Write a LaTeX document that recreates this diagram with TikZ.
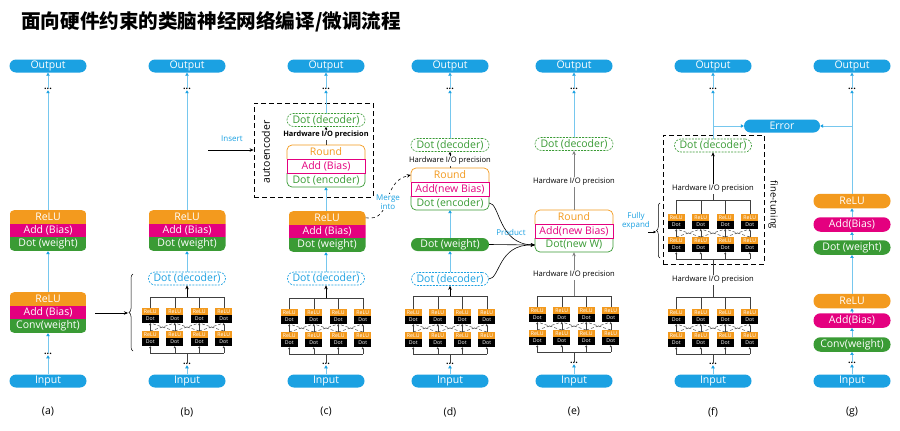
\documentclass[tikz,border=0pt]{standalone}
\usepackage{fontspec}
\setmainfont{Open Sans}
\newfontfamily\cjk{Noto Sans CJK SC}
\usetikzlibrary{arrows.meta,decorations.pathreplacing}
\definecolor{cblue}{HTML}{1BA1E2}
\definecolor{corange}{HTML}{F39A1E}
\definecolor{cmag}{HTML}{E4007F}
\definecolor{cgreen}{HTML}{3A9B35}
\tikzset{
 pill/.style={rounded corners=6.5pt, minimum width=77pt, minimum height=13pt, inner sep=0pt, font=\fontsize{10.5}{10.5}\selectfont},
 bpill/.style={pill, fill=cblue, text=white},
 gpill/.style={pill, minimum height=14.5pt, rounded corners=7pt, text=white},
 dpill/.style={pill, draw, dash pattern=on 2pt off 1.2pt, line width=0.6pt, fill=white},
 blkrow/.style={minimum width=77pt, minimum height=13.67pt, inner sep=0pt, text=white, font=\fontsize{10.5}{10.5}\selectfont},
 orow/.style={minimum width=78pt, minimum height=14pt, inner sep=0pt, font=\fontsize{10.5}{10.5}\selectfont},
 dotsn/.style={inner sep=0.3pt, font=\bfseries\fontsize{9}{5}\selectfont},
 ur/.style={fill=corange, minimum width=17pt, minimum height=7pt, inner sep=0pt, text=white, font=\fontsize{5.2}{5.2}\selectfont},
 ud/.style={fill=black, minimum width=17pt, minimum height=8pt, inner sep=0pt, text=white, font=\fontsize{5.2}{5.2}\selectfont},
 bl/.style={draw=cblue!60, line width=0.6pt, -{Triangle[length=3pt,width=3.4pt,color=cblue]}},
 blk/.style={draw=black, line width=0.6pt, -{Stealth[length=4pt,width=3.5pt]}},
 gyk/.style={draw=black!50, line width=1pt, -{Stealth[length=4pt,width=3.5pt]}},
 gl/.style={draw=black!75, line width=0.5pt},
 gtip/.style={-{Triangle[length=2pt,width=2.2pt]}},
 hwt/.style={font=\fontsize{7.6}{7.6}\selectfont, inner sep=1pt},
 note/.style={text=cblue, font=\fontsize{8}{8.5}\selectfont, align=center, inner sep=0.5pt},
 dbox/.style={draw, dash pattern=on 5pt off 3pt, line width=0.8pt},
 lab/.style={font=\fontsize{10.5}{10.5}\selectfont},
}
\newcommand\stackblk[6]{%
 \begin{scope}
 \clip[rounded corners=5pt] ({#2-38.5},#3) rectangle ({#2+38.5},{#3+41});
 \node[blkrow,fill=corange] (#1r) at (#2,{#3+6.83}) {#4};
 \node[blkrow,fill=cmag] (#1a) at (#2,{#3+20.5}) {#5};
 \node[blkrow,fill=cgreen] (#1d) at (#2,{#3+34.17}) {#6};
 \end{scope}}
\newcommand\outblk[6]{%
 \node[orow,text=corange] (#1r) at (#2,{#3+7}) {#4};
 \node[orow,text=cmag] (#1a) at (#2,{#3+21}) {#5};
 \node[orow,text=cgreen] (#1d) at (#2,{#3+35}) {#6};
 \draw[corange,line width=0.7pt,rounded corners=5pt] ({#2-39},{#3+14}) -- ({#2-39},#3) -- ({#2+39},#3) -- ({#2+39},{#3+14});
 \draw[cgreen,line width=0.7pt,rounded corners=5pt] ({#2-39},{#3+28}) -- ({#2-39},{#3+42}) -- ({#2+39},{#3+42}) -- ({#2+39},{#3+28});
 \draw[cmag,line width=0.7pt] ({#2-39},{#3+14}) rectangle ({#2+39},{#3+28});}
\newcommand\ugrid[4]{%
 \coordinate (#1top) at (#2,#3);
 \coordinate (#1bot) at (#2,{#4+45});
 \draw[gl] ({#2-36.75},#3) -- ({#2+36.75},#3);
 \draw[gl] ({#2-36.75},{#4+45}) -- ({#2+36.75},{#4+45});
 \foreach \k in {1,...,4}{
   \pgfmathsetmacro\ux{#2+(\k-2.5)*24.5}
   \node[ur] (#1a\k) at (\ux,{#4+3.5}) {ReLU};
   \node[ud] (#1b\k) at (\ux,{#4+11}) {Dot};
   \node[ur] (#1c\k) at (\ux,{#4+26.5}) {ReLU};
   \node[ud] (#1d\k) at (\ux,{#4+34}) {Dot};
   \draw[gl] (\ux,#3) -- (#1a\k.north);
   \draw[gl,gtip] (#1c\k.north) -- (#1b\k.south);
   \draw[gl,gtip] (\ux,{#4+45}) -- (#1d\k.south);
 }
 \foreach \k in {1,2,3}{
   \pgfmathsetmacro\ua{#2+(\k-2.5)*24.5}
   \pgfmathsetmacro\ub{\ua+24.5}
   \draw[gl,densely dashed] (\ua,{#4+23}) -- (\ub,{#4+15});
   \draw[gl,densely dashed] (\ub,{#4+23}) -- (\ua,{#4+15});
 }}
\begin{document}
\begin{tikzpicture}[x=1pt,y=-1pt]
\fill[white] (0,0) rectangle (900,431);
\path[use as bounding box] (0,0) rectangle (900,431);
\node[anchor=west, font=\cjk\bfseries\fontsize{19.6}{19.6}\selectfont, inner sep=0pt] (title) at (21,22) {面向硬件约束的类脑神经网络编译/微调流程};

% ---------- (a)
\node[bpill] (aout) at (48,66) {Output};
\node[dotsn] (adt) at (48,89) {...};
\stackblk{ab}{48}{210}{ReLU}{Add (Bias)}{Dot (weight)}
\stackblk{ac}{48}{292}{ReLU}{Add (Bias)}{Conv(weight)}
\node[dotsn] (adb) at (48,354) {...};
\node[bpill] (ain) at (48,381) {Input};
\draw[bl] (abr.north) -- (adt.south);
\draw[bl] (adt.north) -- (aout.south);
\draw[bl] (acr.north) -- (abd.south);
\draw[bl] (adb.north) -- (acd.south);
\draw[bl] (ain.north) -- (adb.south);
\node[lab] (la) at (48,412) {(a)};

% ---------- (b)
\node[bpill] (bout) at (187,66) {Output};
\node[dotsn] (bdt) at (187,89) {...};
\stackblk{bb}{187}{210}{ReLU}{Add (Bias)}{Dot (weight)}
\node[dpill, draw=cblue, text=cblue] (bdec) at (187,278.5) {Dot (decoder)};
\ugrid{bg}{187}{297}{308}
\node[dotsn] (bdb) at (187,364) {...};
\node[bpill] (bin) at (187,381) {Input};
\draw[bl] (bbr.north) -- (bdt.south);
\draw[bl] (bdt.north) -- (bout.south);
\draw[bl] (bdec.north) -- (bbd.south);
\draw[blk] (bgtop) -- (bdec.south);
\draw[gl] (bgbot) -- (bdb.north);
\draw[bl] (bin.north) -- (bdb.south);
\draw[decorate, decoration={brace, amplitude=4pt}, line width=0.5pt] (133,351) -- (133,274);
\coordinate (bbr) at (128,313);
\coordinate (asrc) at (95,313);
\draw[blk] (asrc) -- (bbr);
\node[lab] (lb) at (187,412) {(b)};

% ---------- (c)
\node[bpill] (cout) at (326,66) {Output};
\node[dotsn] (cdt) at (326,89) {...};
\node[dbox, minimum width=119pt, minimum height=94pt] (cae) at (313.5,150) {};
\node[rotate=90, font=\fontsize{10.5}{10.5}\selectfont, inner sep=0pt] (caet) at (266,152) {autoencoder};
\node[dpill, draw=cgreen, text=cgreen, minimum width=78pt] (cdec) at (326,120) {Dot (decoder)};
\node[hwt, font=\bfseries\fontsize{7.4}{7.4}\selectfont] (chw) at (326,135) {Hardware I/O precision};
\outblk{ce}{326}{145}{Round}{Add (Bias)}{Dot (encoder)}
\stackblk{cb}{327}{211}{ReLU}{Add (Bias)}{Dot (weight)}
\node[dpill, draw=cblue, text=cblue] (cdec2) at (326,278.5) {Dot (decoder)};
\ugrid{cg}{326}{298}{309}
\node[dotsn] (cdb) at (326,364) {...};
\node[bpill] (cin) at (326,381) {Input};
\draw[bl] (cdec.north) -- (cdt.south);
\draw[bl] (cdt.north) -- (cout.south);
\draw[gl] (cer.north) -- (chw.south);
\draw[blk, line width=0.5pt, -{Triangle[length=2.5pt,width=2.5pt]}] (chw.north) -- (cdec.south);
\draw[bl] (cbr.north -| cer.south) -- (ced.south);
\draw[bl] (cdec2.north) -- (cbd.south -| cdec2.north);
\draw[blk] (cgtop) -- (cdec2.south);
\draw[gl] (cgbot) -- (cdb.north);
\draw[bl] (cin.north) -- (cdb.south);
\coordinate (cins) at (208,150);
\draw[blk] (cins) -- (cae.west);
\node[note] (cinst) at (232,139) {Insert};
\node[lab] (lc) at (326,412) {(c)};

% ---------- (d)
\node[bpill] (dout) at (450,66) {Output};
\node[dotsn] (ddt) at (450,89) {...};
\node[dpill, draw=cgreen, text=cgreen, minimum width=78pt] (ddec) at (450,145) {Dot (decoder)};
\node[hwt] (dhw) at (450,160.5) {Hardware I/O precision};
\outblk{de}{450}{168}{Round}{Add(new Bias)}{Dot (encoder)}
\node[pill, fill=cgreen, text=white, minimum width=78pt] (dw) at (450,244.5) {Dot (weight)};
\node[dpill, draw=cblue, text=cblue] (ddec2) at (450,279) {Dot (decoder)};
\ugrid{dg}{450}{296}{309}
\node[dotsn] (ddb) at (450,364) {...};
\node[bpill] (din) at (450,381) {Input};
\draw[bl] (ddec.north) -- (ddt.south);
\draw[bl] (ddt.north) -- (dout.south);
\draw[gl] (der.north) -- (dhw.south);
\draw[blk, line width=0.5pt, -{Triangle[length=2.5pt,width=2.5pt]}] (dhw.north) -- (ddec.south);
\draw[bl] (dw.north) -- (ded.south);
\draw[bl] (ddec2.north) -- (dw.south);
\draw[blk] (dgtop) -- (ddec2.south);
\draw[gl] (dgbot) -- (ddb.north);
\draw[bl] (din.north) -- (ddb.south);
\node[lab] (ld) at (450,412) {(d)};

% merge into (c -> d)
\draw[dashed, line width=0.6pt, -{Stealth[length=4pt,width=3.5pt]}] (cbr.east) .. controls (394,222) and (380,182) .. (der.west);
\node[note, fill=white] (cmrg) at (388,202) {Merge\\into};

% ---------- (e)
\node[bpill] (eout) at (574,66) {Output};
\node[dotsn] (edt) at (574,89) {...};
\node[dpill, draw=cgreen, text=cgreen, minimum width=78pt] (edec) at (574,144) {Dot (decoder)};
\node[hwt] (ehw1) at (574,182) {Hardware I/O precision};
\outblk{ee}{574}{210}{Round}{Add(new Bias)}{Dot(new W)}
\node[hwt] (ehw2) at (574,275) {Hardware I/O precision};
\ugrid{eg}{574}{296}{307}
\node[dotsn] (edb) at (574,363) {...};
\node[bpill] (ein) at (574,381) {Input};
\draw[bl] (edec.north) -- (edt.south);
\draw[bl] (edt.north) -- (eout.south);
\draw[draw=black!50, line width=1pt] (eer.north) -- (ehw1.south);
\draw[gyk] (ehw1.north) -- (edec.south);
\draw[draw=black!50, line width=1pt] (egtop) -- (ehw2.south);
\draw[gyk] (ehw2.north) -- (eed.south);
\draw[gl] (egbot) -- (edb.north);
\draw[bl] (ein.north) -- (edb.south);
\node[lab] (le) at (574,412) {(e)};

% product (d -> e)
\draw[blk] (ded.east) .. controls (500,203) and (498,244) .. (eed.west);
\draw[blk] (ddec2.east) .. controls (500,279) and (498,244) .. (eed.west);
\draw[blk] (dw.east) -- (eed.west);
\node[note] (dprod) at (511,232) {Product};

% ---------- (f)
\node[bpill] (fout) at (713,66) {Output};
\node[dotsn] (fdt) at (713,89) {...};
\node[bpill, minimum width=76pt] (ferr) at (782,126) {Error};
\node[dbox, minimum width=101pt, minimum height=129pt] (fft) at (713.5,199.5) {};
\node[rotate=-90, font=\fontsize{9.5}{9.5}\selectfont, inner sep=0pt] (fftt) at (773,205) {fine-tuning};
\node[dpill, draw=cgreen, text=cgreen] (fdec) at (713,145.5) {Dot (decoder)};
\node[hwt] (fhw1) at (713,189) {Hardware I/O precision};
\ugrid{fi}{713}{200}{214}
\node[hwt] (fhw2) at (713,280) {Hardware I/O precision};
\ugrid{fg}{713}{297}{309}
\node[dotsn] (fdb) at (713,364) {...};
\node[bpill] (fin) at (713,381) {Input};
\coordinate (fbranch) at (713,126);
\draw[bl] (fdec.north) -- (fdt.south);
\draw[bl] (fdt.north) -- (fout.south);
\draw[bl] (fbranch) -- (ferr.west);
\draw[gl, line width=0.6pt] (fitop) -- (fhw1.south);
\draw[blk] (fhw1.north) -- (fdec.south);
\draw[gl, line width=0.6pt] (fibot) -- (fhw2.north);
\draw[gl, line width=0.6pt] (fhw2.south) -- (fgtop);
\draw[gl] (fgbot) -- (fdb.north);
\draw[bl] (fin.north) -- (fdb.south);
\draw[decorate, decoration={brace, amplitude=3.5pt}, line width=0.5pt] (660,258) -- (660,203);
\node[note] (ffe) at (636,221) {Fully\\expand};
\coordinate (ffa) at (648,232);
\coordinate (fbr) at (656,232);
\draw[blk, line width=0.5pt, -{Triangle[length=2.5pt,width=2.5pt]}] (ffa) -- (fbr);
\node[lab] (lf) at (713,412) {(f)};

% ---------- (g)
\node[bpill] (gout) at (852,66) {Output};
\node[dotsn] (gdt) at (852,89) {...};
\node[gpill, fill=corange] (gr1) at (852,201) {ReLU};
\node[gpill, fill=cmag] (ga1) at (852,224.5) {Add(Bias)};
\node[gpill, fill=cgreen] (gd1) at (852,247.5) {Dot (weight)};
\node[gpill, fill=corange] (gr2) at (852,301) {ReLU};
\node[gpill, fill=cmag] (ga2) at (852,320.5) {Add(Bias)};
\node[gpill, fill=cgreen] (gc) at (852,344.5) {Conv(weight)};
\node[dotsn] (gdb) at (852,363) {...};
\node[bpill] (gin) at (852,381) {Input};
\coordinate (gbranch) at (852,126);
\draw[bl] (gr1.north) -- (gdt.south);
\draw[bl] (gdt.north) -- (gout.south);
\draw[bl] (gbranch) -- (ferr.east);
\draw[bl] (ga1.north) -- (gr1.south);
\draw[bl] (gd1.north) -- (ga1.south);
\draw[bl] (gr2.north) -- (gd1.south);
\draw[bl] (ga2.north) -- (gr2.south);
\draw[bl] (gc.north) -- (ga2.south);
\draw[bl] (gdb.north) -- (gc.south);
\draw[bl] (gin.north) -- (gdb.south);
\node[lab] (lg) at (852,412) {(g)};
\end{tikzpicture}
\end{document}
